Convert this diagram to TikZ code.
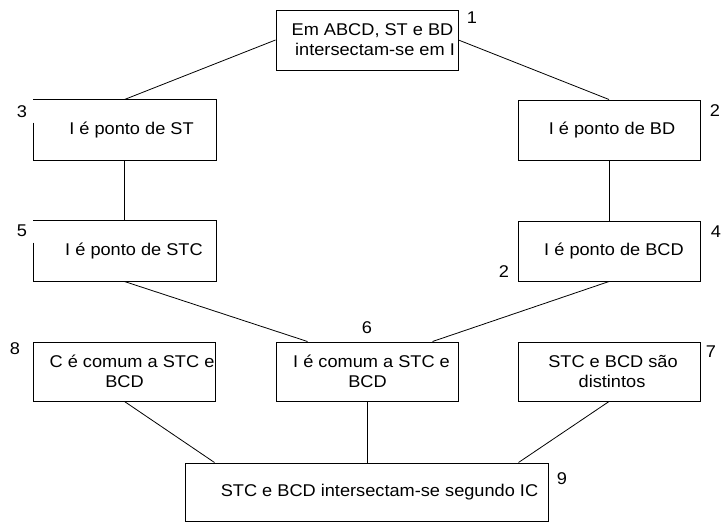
\documentclass[tikz,border=0pt]{standalone}
\usepackage{fontspec}
\setmainfont{Liberation Sans}[FakeStretch=1.07]
\newcommand{\texto}{\fontsize{17}{20}\selectfont}
\tikzset{
  caixa/.style={draw,line width=1pt,minimum width=182pt,minimum height=60pt,
    inner sep=0pt,align=center,font=\texto},
  caixaaberta/.style={caixa,draw=none},
  borda/.style={line width=1pt},
  ligacao/.style={line width=0.8pt},
  numero/.style={font=\texto,inner sep=0pt}
}
\begin{document}
\begin{tikzpicture}[x=1pt,y=-1pt]
  \useasboundingbox (0,0) rectangle (725,523);

  % Hipótese e primeiras consequências.
  \node[caixa] (b1) at (367,40)
    {\hspace*{11pt}Em ABCD, ST e BD\\\hspace*{16pt}intersectam-se em I};
  \node[caixaaberta] (b3) at (124.5,130) {\hspace*{14pt}I é ponto de ST};
  \node[caixa] (b2) at (609,130) {\hspace*{6pt}I é ponto de BD};
  \draw[borda] ([yshift=-23pt]b3.north west) -- (b3.south west)
    -- (b3.south east) -- (b3.north east) -- (b3.north west);

  % Pontos dos planos.
  \node[caixaaberta] (b5) at (124.5,251) {\hspace*{19pt}I é ponto de STC};
  \node[caixa] (b4) at (609,251) {\hspace*{10pt}I é ponto de BCD};
  \draw[borda] ([yshift=-22pt]b5.north west) -- (b5.south west)
    -- (b5.south east) -- (b5.north east) -- (b5.north west);

  % Pontos comuns e planos distintos.
  \node[caixa,minimum height=59pt] (b8) at (124.5,371.5)
    {\hspace*{15pt}C é comum a STC e\\BCD};
  \node[caixa,minimum height=59pt] (b6) at (367.5,371.5)
    {\hspace*{8pt}I é comum a STC e\\BCD};
  \node[caixa,minimum height=59pt] (b7) at (609,371.5)
    {\hspace*{8pt}STC e BCD são\\\hspace*{6pt}distintos};

  % Conclusão.
  \node[caixa,minimum width=363pt,minimum height=58pt] (b9) at (366.5,492)
    {\hspace*{26pt}STC e BCD intersectam-se segundo IC};

  \draw[ligacao] (b1.west) -- (b3.north);
  \draw[ligacao] (b1.east) -- (b2.north);
  \draw[ligacao] (b3.south) -- (b5.north);
  \draw[ligacao] (b2.south) -- (b4.north);
  \draw[ligacao] (b5.south) -- ([xshift=-60pt]b6.north);
  \draw[ligacao] (b4.south) -- ([xshift=65pt]b6.north);
  \draw[ligacao] (b8.south) -- ([xshift=30pt]b9.north west);
  \draw[ligacao] (b6.south) -- (b6.south |- b9.north);
  \draw[ligacao] (b7.south) -- ([xshift=-30pt]b9.north east);

  \foreach \x/\y/\t [count=\i] in {472/18/1,715/111/2,22/112/3,716/232/4,
    22/231/5,367/328/6,711/352/7,15/349/8,562/479/9,504/272/2}{
    \node[numero] (n\i) at (\x,\y) {\t};
  }
\end{tikzpicture}
\end{document}
